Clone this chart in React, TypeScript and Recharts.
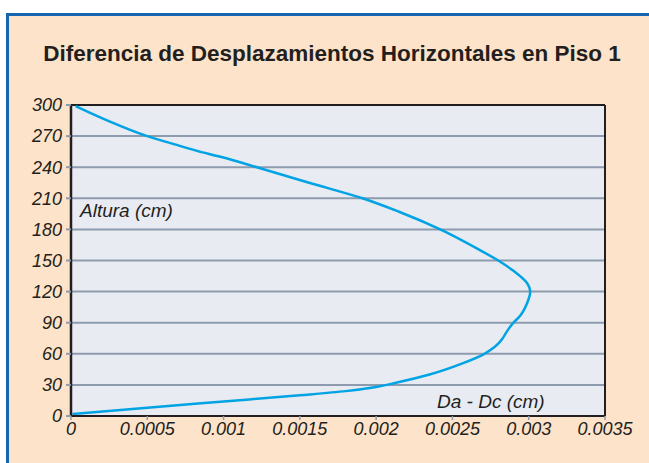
import React from 'react';
import { LineChart, Line, XAxis, YAxis, CartesianGrid, ReferenceLine } from 'recharts';

// altura (cm) y diferencia de desplazamiento Da - Dc (cm)
const alturas = [2, 8, 14, 20, 24, 28, 32, 40, 51, 60, 67, 75, 80, 90, 96, 109, 120, 128, 140, 150, 160, 180, 197, 210, 225, 239, 250, 256, 262, 270, 285, 299];
const difDesp = [0.00001, 0.0005, 0.001, 0.0015, 0.0018, 0.002, 0.00213, 0.00235, 0.00257, 0.00271, 0.00278, 0.00283, 0.00285, 0.0029, 0.00294, 0.00299, 0.00301, 0.00299, 0.0029, 0.0028, 0.00268, 0.00242, 0.00215, 0.00191, 0.00156, 0.00124, 0.00098, 0.00082, 0.00068, 0.0005, 0.00024, 0.00003];

const yTicks = [0, 30, 60, 90, 120, 150, 180, 210, 240, 270, 300];
const xTicks = [0, 0.0005, 0.001, 0.0015, 0.002, 0.0025, 0.003, 0.0035];

const data = alturas.map((h, i) => ({ h, d: difDesp[i] }));

const FONT = '"Liberation Sans", Arial, sans-serif';
const INK = '#231f20';
const GRID = '#8e9bae';

const tickStyle = { fontFamily: FONT, fontSize: 18, fontStyle: 'italic', fill: INK };

export default function App() {
  return (
    <div style={{ position: 'absolute', left: 0, top: 0, width: 649, height: 463, overflow: 'hidden', background: '#fff' }}>
      <div
        style={{
          position: 'absolute',
          left: 6,
          top: 13,
          width: 700,
          height: 500,
          background: '#fde3c9',
          borderLeft: '3px solid #1565b0',
          borderTop: '3px solid #1565b0',
        }}
      />
      <div style={{ position: 'absolute', left: 0, top: 0 }}>
        <LineChart
          width={649}
          height={463}
          data={data}
          layout="vertical"
          margin={{ top: 105, right: 44, bottom: 17, left: 11 }}
        >
          <CartesianGrid vertical={false} stroke={GRID} strokeWidth={2} fill="#e8ebf1" fillOpacity={1} />
          <XAxis
            type="number"
            dataKey="d"
            domain={[0, 0.0035]}
            ticks={xTicks}
            interval={0}
            height={30}
            tick={tickStyle}
            tickSize={4}
            tickMargin={2}
            axisLine={{ stroke: INK, strokeWidth: 2 }}
            tickLine={{ stroke: GRID, strokeWidth: 1.5 }}
          />
          <YAxis
            type="number"
            dataKey="h"
            domain={[0, 300]}
            ticks={yTicks}
            reversed
            interval={0}
            width={60}
            tick={tickStyle}
            tickSize={5}
            tickMargin={4}
            axisLine={{ stroke: INK, strokeWidth: 2.5 }}
            tickLine={{ stroke: GRID, strokeWidth: 2 }}
          />
          <ReferenceLine y={300} stroke={INK} strokeWidth={2} />
          <ReferenceLine x={0.0035} stroke={INK} strokeWidth={2} />
          <Line
            type="monotone"
            dataKey="d"
            stroke="#00a3e4"
            strokeWidth={2.5}
            dot={false}
            isAnimationActive={false}
          />
        </LineChart>
      </div>
      <svg width={649} height={463} style={{ position: 'absolute', left: 0, top: 0, pointerEvents: 'none' }}>
        <text x={332} y={61} textAnchor="middle" fontFamily={FONT} fontSize={22.5} fontWeight="bold" fill={INK}>
          Diferencia de Desplazamientos Horizontales en Piso 1
        </text>
        <text x={80} y={217} fontFamily={FONT} fontSize={19} fontStyle="italic" fill={INK}>
          Altura (cm)
        </text>
        <text x={437} y={408} fontFamily={FONT} fontSize={19} fontStyle="italic" fill={INK}>
          Da - Dc (cm)
        </text>
      </svg>
    </div>
  );
}
